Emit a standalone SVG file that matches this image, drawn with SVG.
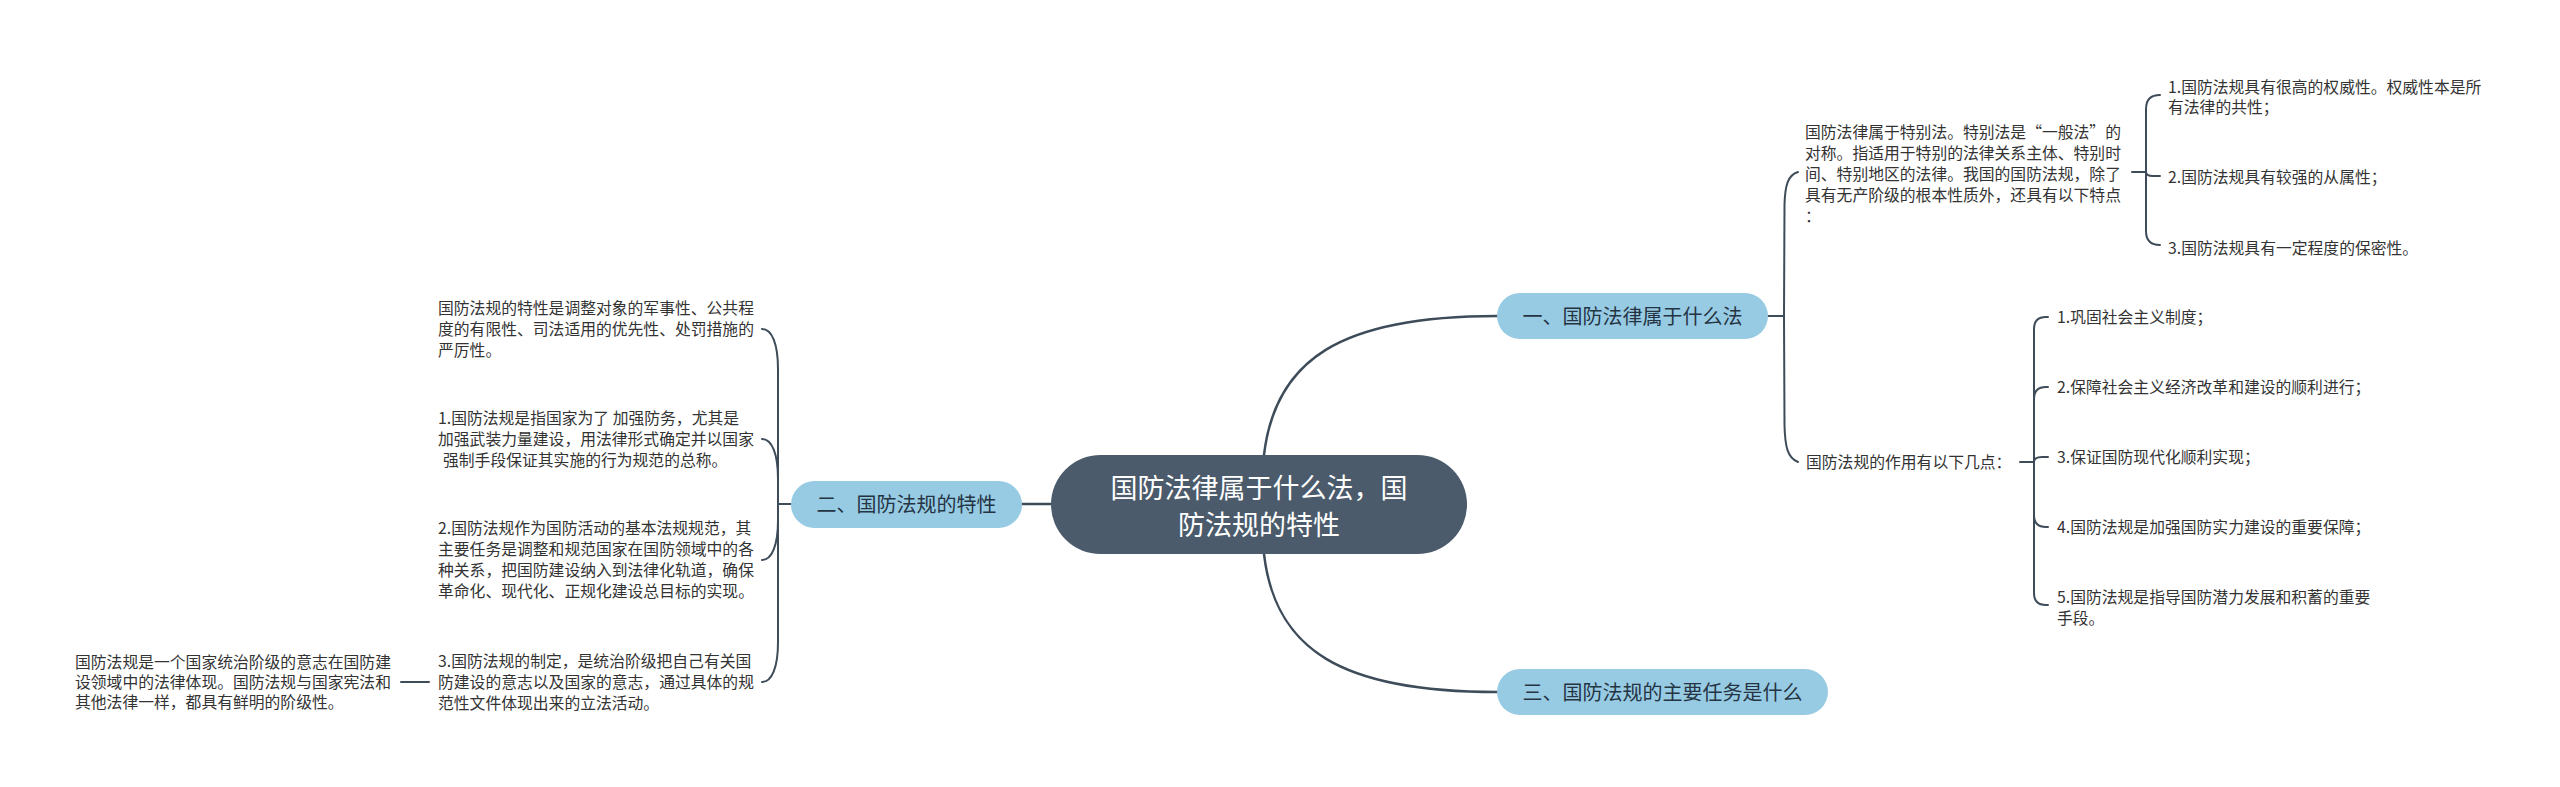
<svg xmlns="http://www.w3.org/2000/svg" width="2560" height="787" viewBox="0 0 2560 787">
<style>
.bg{fill:#ffffff}
.c{fill:none;stroke:#3e4c5a;stroke-width:2;stroke-linecap:round;stroke-linejoin:round}
.cm{fill:none;stroke:#3e4c5a;stroke-width:2.5;stroke-linecap:round}
.root{fill:#4b5b6b}
.br{fill:#97cbe3}
.rt{font-family:"Noto Sans CJK SC","Noto Sans",sans-serif;font-size:27px;fill:#ffffff;text-anchor:middle}
.bt{font-family:"Noto Sans CJK SC","Noto Sans",sans-serif;font-size:20px;fill:#253443;text-anchor:middle}
.lt{font-family:"Noto Sans CJK SC","Noto Sans",sans-serif;font-size:15.8px;fill:#333333}
</style>
<rect class="bg" x="0" y="0" width="2560" height="787"/>
<g id="connectors">
<path class="cm" d="M1051,504 H1022"/>
<path class="cm" d="M1264,455 C1275,360 1340,316 1497,316"/>
<path class="cm" d="M1264,554 C1275,649 1340,692 1497,692"/>
<path class="c" d="M791,504 H778 V369 C778,344 772,329 762,329"/>
<path class="c" d="M778,504 V479 C778,454 772,439 762,439"/>
<path class="c" d="M778,504 V520 C778,545 772,560 762,560"/>
<path class="c" d="M778,504 V642 C778,667 772,682 762,682"/>
<path class="c" d="M429,682 H401"/>
<path class="c" d="M1768,316 H1784 L1784.5,205 C1785,185 1788,175 1798,172"/>
<path class="c" d="M1784,316 L1784.5,425 C1785,448 1788,458 1798,462"/>
<path class="c" d="M2132,172 H2146 V109 Q2146,95 2160,95"/>
<path class="c" d="M2146,172 Q2146,176 2153,176 H2160"/>
<path class="c" d="M2146,172 V231 Q2146,245 2160,245"/>
<path class="c" d="M2020,462 H2034 V329 Q2034,317 2046,317 H2048"/>
<path class="c" d="M2034,462 V399 Q2034,387 2046,387 H2048"/>
<path class="c" d="M2034,462 Q2034,457 2042,457 H2048"/>
<path class="c" d="M2034,462 V515 Q2034,527 2046,527 H2048"/>
<path class="c" d="M2034,462 V593 Q2034,605 2046,605 H2048"/>
</g>
<g id="root">
<rect class="root" x="1051" y="455" width="416" height="99" rx="49.5"/>
<text class="rt" x="1259" y="498">国防法律属于什么法，国</text>
<text class="rt" x="1259" y="535">防法规的特性</text>
</g>
<g id="b1">
<rect class="br" x="1497" y="293" width="271" height="46" rx="23"/>
<text class="bt" x="1632.5" y="323.5">一、国防法律属于什么法</text>
</g>
<g id="b2">
<rect class="br" x="791" y="481" width="231" height="47" rx="23.5"/>
<text class="bt" x="906.5" y="511.5">二、国防法规的特性</text>
</g>
<g id="b3">
<rect class="br" x="1497" y="669" width="331" height="46" rx="23"/>
<text class="bt" x="1662.5" y="699.5">三、国防法规的主要任务是什么</text>
</g>
<g id="n1a">
<text class="lt" x="1805" y="138">国防法律属于特别法。特别法是“一般法”的</text>
<text class="lt" x="1805" y="159">对称。指适用于特别的法律关系主体、特别时</text>
<text class="lt" x="1805" y="180">间、特别地区的法律。我国的国防法规，除了</text>
<text class="lt" x="1805" y="201">具有无产阶级的根本性质外，还具有以下特点</text>
<text class="lt" x="1805" y="222">：</text>
</g>
<g id="n1a1">
<text class="lt" x="2168" y="93">1.国防法规具有很高的权威性。权威性本是所</text>
<text class="lt" x="2168" y="113">有法律的共性；</text>
</g>
<g id="n1a2"><text class="lt" x="2168" y="183">2.国防法规具有较强的从属性；</text></g>
<g id="n1a3"><text class="lt" x="2168" y="254">3.国防法规具有一定程度的保密性。</text></g>
<g id="n1b"><text class="lt" x="1806" y="468">国防法规的作用有以下几点：</text></g>
<g id="n1b1"><text class="lt" x="2057" y="323">1.巩固社会主义制度；</text></g>
<g id="n1b2"><text class="lt" x="2057" y="393">2.保障社会主义经济改革和建设的顺利进行；</text></g>
<g id="n1b3"><text class="lt" x="2057" y="463">3.保证国防现代化顺利实现；</text></g>
<g id="n1b4"><text class="lt" x="2057" y="533">4.国防法规是加强国防实力建设的重要保障；</text></g>
<g id="n1b5">
<text class="lt" x="2057" y="603">5.国防法规是指导国防潜力发展和积蓄的重要</text>
<text class="lt" x="2057" y="624">手段。</text>
</g>
<g id="n2a">
<text class="lt" x="438" y="314">国防法规的特性是调整对象的军事性、公共程</text>
<text class="lt" x="438" y="335">度的有限性、司法适用的优先性、处罚措施的</text>
<text class="lt" x="438" y="356">严厉性。</text>
</g>
<g id="n2b">
<text class="lt" x="438" y="424">1.国防法规是指国家为了 加强防务，尤其是</text>
<text class="lt" x="438" y="445">加强武装力量建设，用法律形式确定并以国家</text>
<text class="lt" x="443" y="466">强制手段保证其实施的行为规范的总称。</text>
</g>
<g id="n2c">
<text class="lt" x="438" y="534">2.国防法规作为国防活动的基本法规规范，其</text>
<text class="lt" x="438" y="555">主要任务是调整和规范国家在国防领域中的各</text>
<text class="lt" x="438" y="576">种关系，把国防建设纳入到法律化轨道，确保</text>
<text class="lt" x="438" y="597">革命化、现代化、正规化建设总目标的实现。</text>
</g>
<g id="n2d">
<text class="lt" x="438" y="667">3.国防法规的制定，是统治阶级把自己有关国</text>
<text class="lt" x="438" y="688">防建设的意志以及国家的意志，通过具体的规</text>
<text class="lt" x="438" y="709">范性文件体现出来的立法活动。</text>
</g>
<g id="n2d1">
<text class="lt" x="75" y="668">国防法规是一个国家统治阶级的意志在国防建</text>
<text class="lt" x="75" y="688">设领域中的法律体现。国防法规与国家宪法和</text>
<text class="lt" x="75" y="708">其他法律一样，都具有鲜明的阶级性。</text>
</g>
</svg>
